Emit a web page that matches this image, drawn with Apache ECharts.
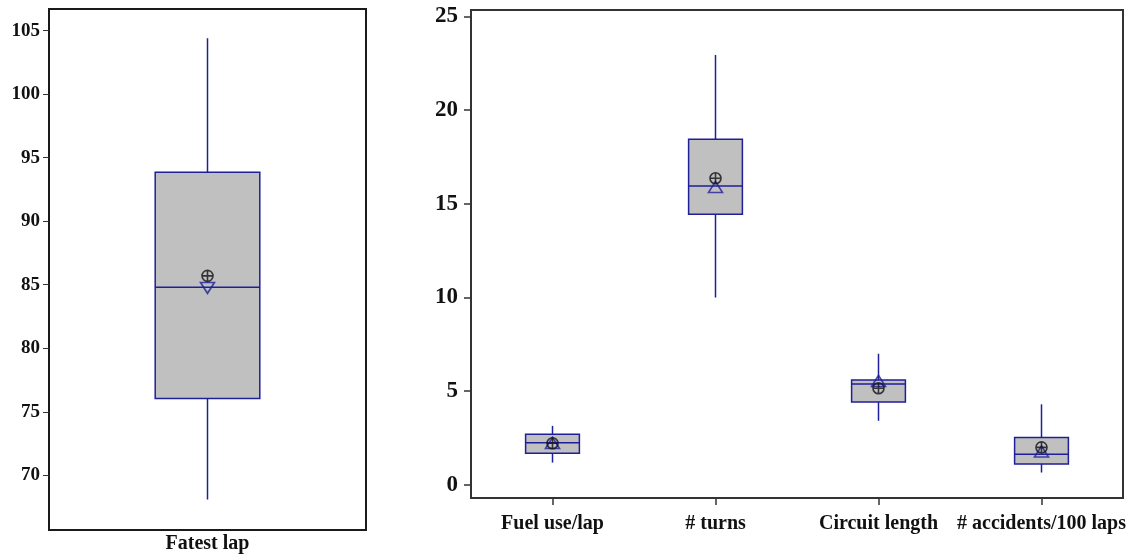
<!DOCTYPE html>
<html>
<head>
<meta charset="utf-8">
<script src="https://cdn.jsdelivr.net/npm/echarts@6/dist/echarts.min.js"></script>
<style>
  html, body { margin: 0; padding: 0; background: #fff; }
  #chart { width: 1136px; height: 559px; }
</style>
</head>
<body>
<div id="chart"></div>
<script>
// left panel: one box
const leftCategories = ['Fatest lap'];
const leftMin = [68.1];
const leftQ1 = [76.05];
const leftMedian = [84.8];
const leftQ3 = [93.85];
const leftMax = [104.4];
const leftMean = [85.7];
const leftTri = [84.75];
const leftTicks = [70, 75, 80, 85, 90, 95, 100, 105];

// right panel: four boxes
const rightCategories = ['Fuel use/lap', '# turns', 'Circuit length', '# accidents/100 laps'];
const rightMin = [1.19, 10.0, 3.42, 0.66];
const rightQ1 = [1.69, 14.45, 4.42, 1.12];
const rightMedian = [2.25, 15.95, 5.38, 1.63];
const rightQ3 = [2.70, 18.45, 5.60, 2.53];
const rightMax = [3.15, 22.95, 7.0, 4.3];
const rightMean = [2.22, 16.37, 5.16, 2.0];
const rightTri = [2.24, 15.9, 5.55, 1.78];
const rightTicks = [0, 5, 10, 15, 20, 25];

const navy = '#1f1f99';
const serif = 'Liberation Serif';
const circlePlus = 'path://M0,10A10,10,0,1,1,20,10A10,10,0,1,1,0,10ZM10,0L10,20M0,10L20,10';

function boxRows(mins, q1s, meds, q3s, maxs) {
  return mins.map((v, i) => [i, v, q1s[i], meds[i], q3s[i], maxs[i]]);
}

function renderBox(params, api) {
  const x = api.value(0);
  const lo = api.coord([x, api.value(1)]);
  const q1 = api.coord([x, api.value(2)]);
  const med = api.coord([x, api.value(3)]);
  const q3 = api.coord([x, api.value(4)]);
  const hi = api.coord([x, api.value(5)]);
  const w = api.size([1, 0])[0] * 0.33;
  const cx = lo[0];
  const lineStyle = { stroke: navy, lineWidth: 1.5 };
  return {
    type: 'group',
    children: [
      { type: 'line', shape: { x1: cx, y1: hi[1], x2: cx, y2: q3[1] }, style: lineStyle },
      { type: 'line', shape: { x1: cx, y1: q1[1], x2: cx, y2: lo[1] }, style: lineStyle },
      { type: 'rect', shape: { x: cx - w / 2, y: q3[1], width: w, height: q1[1] - q3[1] },
        style: { fill: '#c0c0c0', stroke: navy, lineWidth: 1.5 } },
      { type: 'line', shape: { x1: cx - w / 2, y1: med[1], x2: cx + w / 2, y2: med[1] }, style: lineStyle }
    ]
  };
}

const chart = echarts.init(document.getElementById('chart'));

const option = {
  animation: false,
  backgroundColor: '#fff',
  grid: [
    { left: 49, right: 770, top: 9, bottom: 29, show: true, borderColor: '#1a1a1a', borderWidth: 2, backgroundColor: 'transparent' },
    { left: 471, right: 13, top: 10, bottom: 61, show: true, borderColor: '#333', borderWidth: 2, backgroundColor: 'transparent' }
  ],
  xAxis: [
    {
      gridIndex: 0, type: 'category', data: leftCategories,
      axisLine: { show: false, onZero: false }, axisTick: { show: false },
      axisLabel: { margin: 4, fontFamily: serif, fontWeight: 'bold', fontSize: 20, color: '#111' }
    },
    {
      gridIndex: 1, type: 'category', data: rightCategories,
      axisLine: { show: false, onZero: false },
      axisTick: { show: true, alignWithLabel: true, length: 7, lineStyle: { color: '#333', width: 1.5 } },
      axisLabel: { margin: 16, fontFamily: serif, fontWeight: 'bold', fontSize: 20, color: '#111', interval: 0 }
    }
  ],
  yAxis: [
    {
      gridIndex: 0, type: 'value', min: 65.7, max: 106.7,
      splitLine: { show: false }, axisLine: { show: false },
      axisTick: { show: true, length: 6, customValues: leftTicks, lineStyle: { color: '#333' } },
      axisLabel: { margin: 9, customValues: leftTicks, fontFamily: serif, fontWeight: 'bold', fontSize: 19, color: '#111' }
    },
    {
      gridIndex: 1, type: 'value', min: -0.7, max: 25.35,
      splitLine: { show: false }, axisLine: { show: false },
      axisTick: { show: true, length: 7, customValues: rightTicks, lineStyle: { color: '#333', width: 1.5 } },
      axisLabel: { margin: 13, customValues: rightTicks, fontFamily: serif, fontWeight: 'bold', fontSize: 23, color: '#111' }
    }
  ],
  series: [
    {
      type: 'custom', xAxisIndex: 0, yAxisIndex: 0, renderItem: renderBox,
      encode: { x: 0, y: [1, 2, 3, 4, 5] },
      data: boxRows(leftMin, leftQ1, leftMedian, leftQ3, leftMax)
    },
    {
      type: 'custom', xAxisIndex: 1, yAxisIndex: 1, renderItem: renderBox,
      encode: { x: 0, y: [1, 2, 3, 4, 5] },
      data: boxRows(rightMin, rightQ1, rightMedian, rightQ3, rightMax)
    },
    {
      type: 'scatter', xAxisIndex: 0, yAxisIndex: 0,
      symbol: 'triangle', symbolSize: [14, 11], symbolRotate: 180,
      itemStyle: { color: 'rgba(0,0,0,0)', borderColor: navy, borderWidth: 1.6 },
      data: leftTri.map((v, i) => [i, v])
    },
    {
      type: 'scatter', xAxisIndex: 0, yAxisIndex: 0,
      symbol: circlePlus, symbolSize: 11,
      itemStyle: { color: 'rgba(0,0,0,0)', borderColor: '#111', borderWidth: 1.6 },
      data: leftMean.map((v, i) => [i, v])
    },
    {
      type: 'scatter', xAxisIndex: 1, yAxisIndex: 1,
      symbol: 'triangle', symbolSize: [14, 11],
      itemStyle: { color: 'rgba(0,0,0,0)', borderColor: navy, borderWidth: 1.6 },
      data: rightTri.map((v, i) => [i, v])
    },
    {
      type: 'scatter', xAxisIndex: 1, yAxisIndex: 1,
      symbol: circlePlus, symbolSize: 11,
      itemStyle: { color: 'rgba(0,0,0,0)', borderColor: '#111', borderWidth: 1.6 },
      data: rightMean.map((v, i) => [i, v])
    }
  ]
};

chart.setOption(option);
</script>
</body>
</html>
